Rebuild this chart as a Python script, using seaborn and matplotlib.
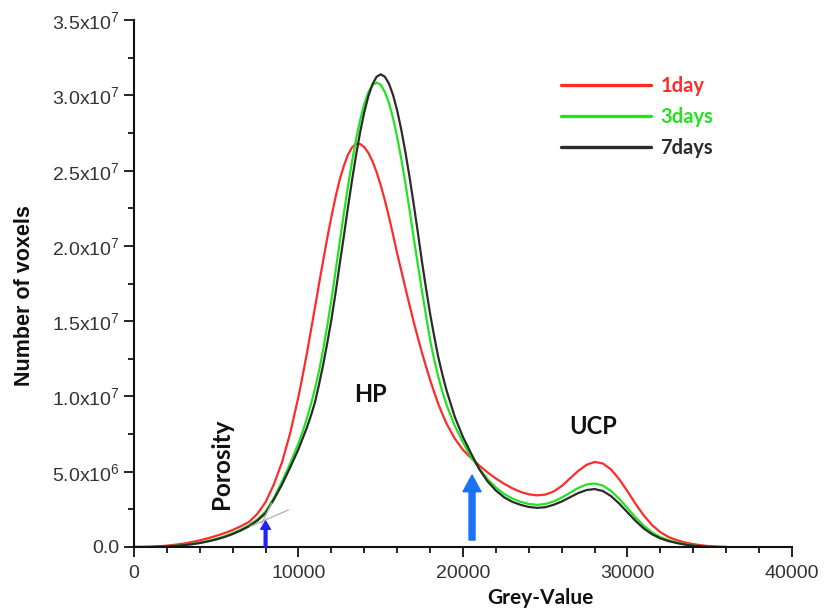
"""
Grey-value histograms of the scanned samples (1, 3 and 7 days)
"""

import numpy as np
import pandas as pd
import seaborn as sns
import matplotlib.pyplot as plt

# grey-value grid: step 500, finer (250) across the main peak
grey = list(range(0, 10000, 500)) + list(range(10000, 19000, 250)) + list(range(19000, 36500, 500))

# voxel counts (x1e6)
day1 = [0, 0, 0.02, 0.05, 0.09, 0.15, 0.22, 0.32, 0.44, 0.58,
        0.74, 0.92, 1.13, 1.38, 1.67, 2.2, 2.98, 4.15, 5.63, 7.58,
        10.0, 11.37, 12.8, 14.35, 15.9, 17.48, 19.03, 20.53, 21.94, 23.23,
        24.38, 25.29, 26.04, 26.54, 26.78, 26.77, 26.56, 26.18, 25.62, 24.9,
        24.03, 23.04, 21.93, 20.73, 19.5, 18.35, 17.2, 16.07, 14.97, 13.93,
        12.93, 12.0, 11.1, 10.28, 9.5, 8.83,
        8.2, 7.2, 6.45, 5.9, 5.4, 4.95, 4.55, 4.2, 3.9, 3.66,
        3.5, 3.43, 3.48, 3.68, 4.05, 4.55, 5.05, 5.45, 5.65, 5.55,
        5.15, 4.5, 3.7, 2.85, 2.08, 1.45, 0.98, 0.66, 0.45, 0.3,
        0.19, 0.11, 0.05, 0.015, 0]

day3 = [0, 0, 0, 0.02, 0.05, 0.08, 0.13, 0.2, 0.29, 0.4,
        0.54, 0.71, 0.92, 1.16, 1.45, 1.83, 2.35, 3.25, 4.35, 5.55,
        6.9, 7.65, 8.5, 9.45, 10.5, 11.7, 13.1, 14.7, 16.4, 18.3,
        20.2, 22.1, 23.9, 25.57, 27.08, 28.38, 29.44, 30.21, 30.69, 30.85,
        30.7, 30.24, 29.49, 28.48, 27.23, 25.77, 24.15, 22.4, 20.58, 18.8,
        17.05, 15.4, 13.75, 12.45, 11.3, 10.3,
        9.45, 8.05, 6.95, 5.95, 5.2, 4.5, 3.95, 3.52, 3.22, 3.0,
        2.86, 2.8, 2.86, 3.02, 3.28, 3.6, 3.92, 4.15, 4.22, 4.08,
        3.72, 3.2, 2.58, 1.95, 1.4, 0.97, 0.66, 0.45, 0.3, 0.19,
        0.1, 0.05, 0.02, 0, 0]

day7 = [0, 0, 0, 0.02, 0.04, 0.07, 0.12, 0.18, 0.26, 0.37,
        0.5, 0.66, 0.86, 1.1, 1.38, 1.75, 2.25, 3.15, 4.15, 5.3,
        6.5, 7.2, 7.9, 8.7, 9.6, 10.8, 12.1, 13.55, 15.1, 16.85,
        18.75, 20.59, 22.5, 24.33, 26.03, 27.57, 28.89, 29.96, 30.75, 31.24,
        31.4, 31.24, 30.78, 30.02, 28.99, 27.71, 26.23, 24.58, 22.8, 20.94,
        19.0, 17.2, 15.5, 14.0, 12.6, 11.45,
        10.4, 8.65, 7.3, 6.2, 5.15, 4.35, 3.75, 3.3, 3.0, 2.8,
        2.66, 2.6, 2.64, 2.8, 3.02, 3.3, 3.58, 3.78, 3.85, 3.72,
        3.38, 2.88, 2.3, 1.72, 1.22, 0.84, 0.57, 0.39, 0.26, 0.16,
        0.09, 0.045, 0.015, 0, 0]

series = ["1day", "3days", "7days"]
colors = ["#ff2b2b", "#22e322", "#2b2b2b"]

# tangent construction at the porosity threshold
tan_flat_x = [7050, 9380]
tan_flat_y = [1.35e6, 2.46e6]
tan_steep_x = [7760, 8370]
tan_steep_y = [1.57e6, 2.9e6]

yticks = [0, 5e6, 1e7, 1.5e7, 2e7, 2.5e7, 3e7, 3.5e7]
ytick_labels = ["0.0", r"5.0x10$^{6}$", r"1.0x10$^{7}$", r"1.5x10$^{7}$",
                r"2.0x10$^{7}$", r"2.5x10$^{7}$", r"3.0x10$^{7}$", r"3.5x10$^{7}$"]
xticks = [0, 10000, 20000, 30000, 40000]

df = pd.DataFrame({
    "Grey-Value": grey * 3,
    "Number of voxels": np.array(day1 + day3 + day7) * 1e6,
    "sample": np.repeat(series, len(grey)),
})

sns.set_theme(style="ticks")
plt.rcParams["font.family"] = ["Liberation Sans", "DejaVu Sans"]
plt.rcParams["mathtext.default"] = "regular"

fig = plt.figure(figsize=(8.25, 6.1), dpi=100)
ax = fig.add_axes([0.1624, 0.1033, 0.7976, 0.8637])

sns.lineplot(data=df, x="Grey-Value", y="Number of voxels", hue="sample",
             palette=dict(zip(series, colors)), linewidth=1.6,
             solid_joinstyle="round", ax=ax)

ax.plot(tan_flat_x, tan_flat_y, color="#b5b5b5", lw=1.0, zorder=4)
ax.plot(tan_steep_x, tan_steep_y, color="#b5b5b5", lw=1.0, zorder=4)

# threshold arrows
ax.annotate("", xy=(8000, 1.73e6), xytext=(8000, 0.0),
            arrowprops=dict(arrowstyle="simple,head_length=6,head_width=7,tail_width=2",
                            mutation_scale=1, color="#1f1fff", shrinkA=0, shrinkB=0),
            zorder=5)
ax.annotate("", xy=(20550, 4.78e6), xytext=(20550, 0.46e6),
            arrowprops=dict(arrowstyle="simple,head_length=12,head_width=13,tail_width=4.3",
                            mutation_scale=1, color="#1b72f5", shrinkA=0, shrinkB=0),
            zorder=5)

bold = dict(family=["Lato", "DejaVu Sans"], fontweight="bold", color="#111111")
ax.text(5350, 5.5e6, "Porosity", rotation=90, ha="center", va="center", fontsize=17.5, **bold)
ax.text(14400, 1.016e7, "HP", ha="center", va="center", fontsize=17, **bold)
ax.text(27940, 8.03e6, "UCP", ha="center", va="center", fontsize=17, **bold)

ax.set_xlim(0, 40000)
ax.set_ylim(0, 3.5e7)
ax.set_xticks(xticks)
ax.set_xticklabels([str(t) for t in xticks])
ax.set_xticks(range(0, 40001, 2000), minor=True)
ax.set_yticks(yticks)
ax.set_yticklabels(ytick_labels)
ax.set_yticks(np.arange(0, 3.5e7 + 1, 2.5e6), minor=True)

ax.tick_params(axis="both", which="major", direction="out", length=7, width=1.4,
               labelsize=14, labelcolor="#333333", color="#222222")
ax.tick_params(axis="x", which="major", pad=6)
ax.tick_params(axis="both", which="minor", direction="out", length=4, width=1.4,
               color="#222222")
for side in ["left", "bottom"]:
    ax.spines[side].set_linewidth(1.5)
    ax.spines[side].set_color("#111111")
sns.despine(ax=ax)

ax.set_xlabel("Grey-Value", fontsize=15, **bold)
ax.set_ylabel("Number of voxels", fontsize=15.5, fontweight="bold", color="#111111")
ax.xaxis.set_label_coords(0.617, -0.077)
ax.yaxis.set_label_coords(-0.150, 0.478)

# legend with coloured labels, no frame
ax.legend_.remove()
handles = ax.get_lines()[:3]
leg = ax.legend(handles, series, loc="upper left", bbox_to_anchor=(0.621, 0.928),
                frameon=False, handlelength=4.5, handletextpad=0.45, labelspacing=0.55,
                prop={"family": ["Lato", "DejaVu Sans"], "weight": "bold", "size": 14.5})
for text, c in zip(leg.get_texts(), colors):
    text.set_color(c)
for line in leg.get_lines():
    line.set_linewidth(2.4)

fig.savefig("out.png", dpi=100)
plt.close(fig)
